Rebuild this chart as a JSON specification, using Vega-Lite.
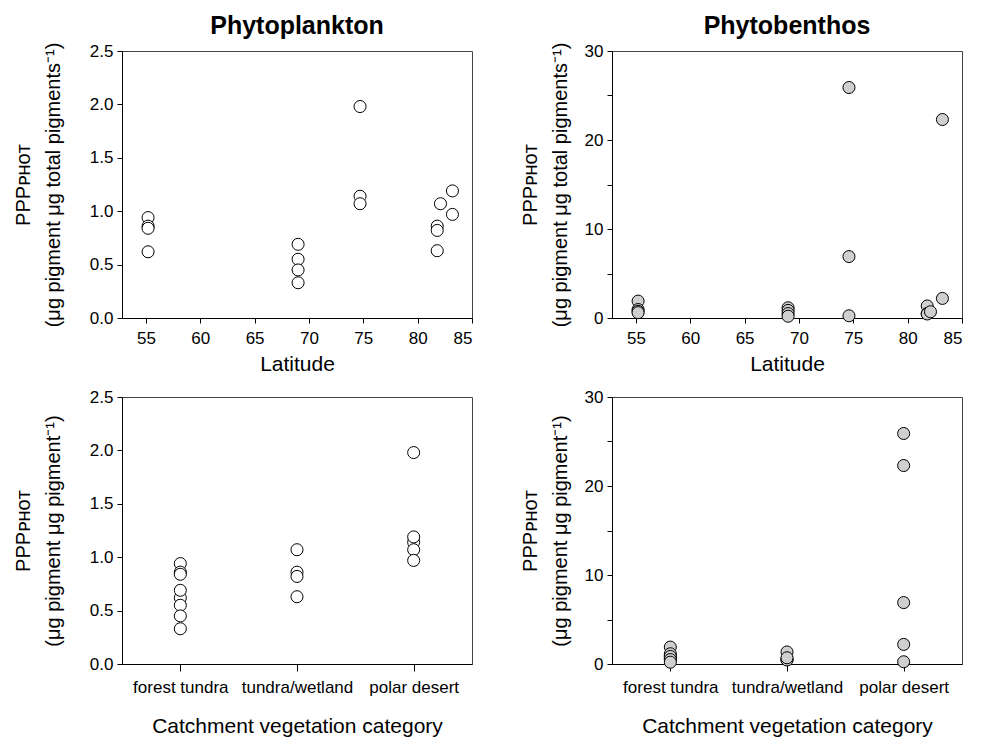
{
  "$schema": "https://vega.github.io/schema/vega-lite/v6.json",
  "padding": {"left": 12, "top": 13, "right": 5, "bottom": 5},
  "background": "white",
  "datasets": {
    "plankton": [
      {"lat": 55.2, "category": "forest tundra", "value": 0.94},
      {"lat": 55.2, "category": "forest tundra", "value": 0.86},
      {"lat": 55.2, "category": "forest tundra", "value": 0.84},
      {"lat": 55.2, "category": "forest tundra", "value": 0.62},
      {"lat": 69.0, "category": "forest tundra", "value": 0.69},
      {"lat": 69.0, "category": "forest tundra", "value": 0.55},
      {"lat": 69.0, "category": "forest tundra", "value": 0.45},
      {"lat": 69.0, "category": "forest tundra", "value": 0.33},
      {"lat": 74.7, "category": "polar desert", "value": 1.98},
      {"lat": 74.7, "category": "polar desert", "value": 1.14},
      {"lat": 74.7, "category": "polar desert", "value": 1.07},
      {"lat": 81.8, "category": "tundra/wetland", "value": 0.86},
      {"lat": 81.8, "category": "tundra/wetland", "value": 0.82},
      {"lat": 81.8, "category": "tundra/wetland", "value": 0.63},
      {"lat": 82.1, "category": "tundra/wetland", "value": 1.07},
      {"lat": 83.2, "category": "polar desert", "value": 1.19},
      {"lat": 83.2, "category": "polar desert", "value": 0.97}
    ],
    "benthos": [
      {"lat": 55.2, "category": "forest tundra", "value": 1.9},
      {"lat": 55.2, "category": "forest tundra", "value": 0.95},
      {"lat": 55.2, "category": "forest tundra", "value": 0.75},
      {"lat": 55.2, "category": "forest tundra", "value": 0.6},
      {"lat": 69.0, "category": "forest tundra", "value": 1.15},
      {"lat": 69.0, "category": "forest tundra", "value": 0.85},
      {"lat": 69.0, "category": "forest tundra", "value": 0.5},
      {"lat": 69.0, "category": "forest tundra", "value": 0.2},
      {"lat": 74.6, "category": "polar desert", "value": 25.9},
      {"lat": 74.6, "category": "polar desert", "value": 6.9},
      {"lat": 74.6, "category": "polar desert", "value": 0.25},
      {"lat": 81.8, "category": "tundra/wetland", "value": 1.35},
      {"lat": 81.8, "category": "tundra/wetland", "value": 0.5},
      {"lat": 81.8, "category": "tundra/wetland", "value": 0.45},
      {"lat": 82.1, "category": "tundra/wetland", "value": 0.7},
      {"lat": 83.2, "category": "polar desert", "value": 22.3},
      {"lat": 83.2, "category": "polar desert", "value": 2.2}
    ]
  },
  "config": {
    "font": "Liberation Sans",
    "view": {"stroke": "#444", "strokeWidth": 1},
    "axis": {
      "labelFont": "Liberation Sans", "titleFont": "Liberation Sans",
      "labelFontSize": 17, "titleFontSize": 20, "titleFontWeight": "normal",
      "labelColor": "#000", "titleColor": "#000", "domainColor": "#000", "tickColor": "#000",
      "grid": false, "tickSize": 5, "labelPadding": 4
    },
    "title": {"fontSize": 25, "fontWeight": "bold", "color": "#000", "font": "Liberation Sans", "offset": 3}
  },
  "columns": 2,
  "spacing": {"row": 79, "column": 140},
  "bounds": "flush",
  "concat": [
    {
      "width": 350, "height": 267,
      "title": "Phytoplankton",
      "data": {"name": "plankton"},
      "mark": {"type": "circle", "fill": "white", "stroke": "black", "strokeWidth": 1, "size": 145, "opacity": 1, "clip": false},
      "encoding": {
        "x": {"field": "lat", "type": "quantitative", "scale": {"domain": [52.8, 85], "nice": false, "zero": false},
              "axis": {"values": [55, 60, 65, 70, 75, 80, 85], "title": "Latitude", "titleFontSize": 21, "labelPadding": 7, "titlePadding": 7}},
        "y": {"field": "value", "type": "quantitative", "scale": {"domain": [0, 2.5], "nice": false},
              "axis": {"values": [0, 0.5, 1, 1.5, 2, 2.5], "format": ".1f", "title": ["PPPᴘʜᴏᴛ", "(μg pigment μg total pigments⁻¹)"], "titlePadding": 26, "titleLineHeight": 30}}
      }
    },
    {
      "width": 350, "height": 267,
      "title": "Phytobenthos",
      "data": {"name": "benthos"},
      "mark": {"type": "circle", "fill": "#cfcfcf", "stroke": "black", "strokeWidth": 1, "size": 145, "opacity": 1, "clip": false},
      "encoding": {
        "x": {"field": "lat", "type": "quantitative", "scale": {"domain": [52.8, 85], "nice": false, "zero": false},
              "axis": {"values": [55, 60, 65, 70, 75, 80, 85], "title": "Latitude", "titleFontSize": 21, "labelPadding": 7, "titlePadding": 7}},
        "y": {"field": "value", "type": "quantitative", "scale": {"domain": [0, 30], "nice": false},
              "axis": {"values": [0, 5, 10, 15, 20, 25, 30], "labelExpr": "datum.value % 10 === 0 ? datum.label : ''", "title": ["PPPᴘʜᴏᴛ", "(μg pigment μg total pigments⁻¹)"], "titlePadding": 14, "titleLineHeight": 30}}
      }
    },
    {
      "width": 350, "height": 267,
      "data": {"name": "plankton"},
      "mark": {"type": "circle", "fill": "white", "stroke": "black", "strokeWidth": 1, "size": 145, "opacity": 1, "clip": false},
      "encoding": {
        "x": {"field": "category", "type": "nominal", "sort": ["forest tundra", "tundra/wetland", "polar desert"], "scale": {"type": "point", "padding": 0.5},
              "axis": {"labelAngle": 0, "tickSize": 7, "labelPadding": 8, "title": "Catchment vegetation category", "titleFontSize": 21, "titlePadding": 20}},
        "y": {"field": "value", "type": "quantitative", "scale": {"domain": [0, 2.5], "nice": false},
              "axis": {"values": [0, 0.5, 1, 1.5, 2, 2.5], "format": ".1f", "title": ["PPPᴘʜᴏᴛ", "(μg pigment μg pigment⁻¹)"], "titlePadding": 26, "titleLineHeight": 30}}
      }
    },
    {
      "width": 350, "height": 267,
      "data": {"name": "benthos"},
      "mark": {"type": "circle", "fill": "#cfcfcf", "stroke": "black", "strokeWidth": 1, "size": 145, "opacity": 1, "clip": false},
      "encoding": {
        "x": {"field": "category", "type": "nominal", "sort": ["forest tundra", "tundra/wetland", "polar desert"], "scale": {"type": "point", "padding": 0.5},
              "axis": {"labelAngle": 0, "tickSize": 7, "labelPadding": 8, "title": "Catchment vegetation category", "titleFontSize": 21, "titlePadding": 20}},
        "y": {"field": "value", "type": "quantitative", "scale": {"domain": [0, 30], "nice": false},
              "axis": {"values": [0, 5, 10, 15, 20, 25, 30], "labelExpr": "datum.value % 10 === 0 ? datum.label : ''", "title": ["PPPᴘʜᴏᴛ", "(μg pigment μg pigment⁻¹)"], "titlePadding": 14, "titleLineHeight": 30}}
      }
    }
  ]
}
